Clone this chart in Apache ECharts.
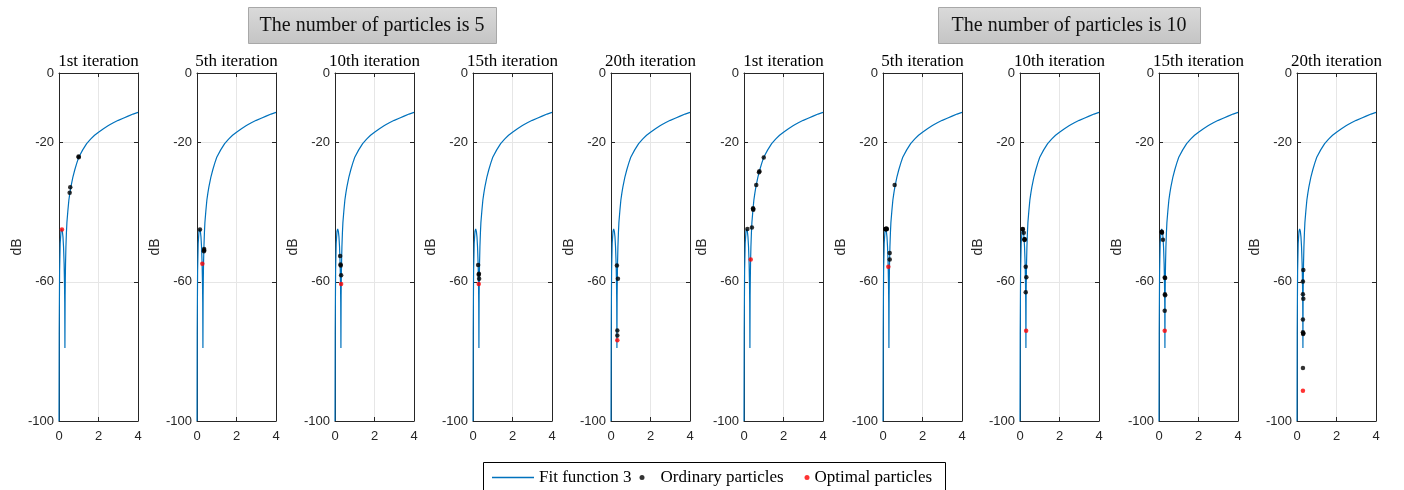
<!DOCTYPE html>
<html><head><meta charset="utf-8">
<script src="https://cdn.jsdelivr.net/npm/echarts@6/dist/echarts.min.js"></script>
<style>html,body{margin:0;padding:0;background:#fff}#c{width:1404px;height:490px}</style>
</head><body><div id="c"></div><script>
// ---- data ----
const curveX  = [0, 0.01, 0.03, 0.06, 0.1, 0.135, 0.17, 0.2, 0.23, 0.26, 0.28, 0.29, 0.3, 0.31, 0.32, 0.33, 0.35, 0.375, 0.4, 0.45, 0.5, 0.55, 0.6, 0.7, 0.8, 0.9, 1.0, 1.2, 1.4, 1.6, 1.8, 2.0, 2.25, 2.5, 2.75, 3.0, 3.25, 3.5, 3.75, 4.0];
const curveDb = [-100, -75, -57, -49, -45.5, -44.8, -45.5, -47, -50, -55, -61, -66, -79, -64, -59, -55, -50, -46, -43, -39.5, -36.5, -34.5, -32.8, -30, -27.8, -25.9, -24.2, -22.1, -20.3, -19, -17.9, -17, -16, -15.1, -14.3, -13.6, -13, -12.4, -11.8, -11.3];

const titles = ['1st iteration','5th iteration','10th iteration','15th iteration','20th iteration',
                '1st iteration','5th iteration','10th iteration','15th iteration','20th iteration'];
const bannerTexts = ['The number of particles is 5', 'The number of particles is 10'];
const yTickValues = [-100, -60, -20, 0];
const xTickValues = [0, 2, 4];
const legendNames = ['Fit function 3', 'Ordinary particles', 'Optimal particles'];

// 5 particles
const ord5_1  = [[1.0,-24.2],[0.99,-24.0],[0.57,-32.8],[0.54,-34.4]];
const opt5_1  = [[0.15,-45.0]];
const ord5_5  = [[0.15,-45.0],[0.36,-50.9],[0.35,-51.2],[0.36,-50.6]];
const opt5_5  = [[0.27,-54.8]];
const ord5_10 = [[0.26,-52.6],[0.28,-55.0],[0.29,-55.3],[0.31,-58.1]];
const opt5_10 = [[0.31,-60.6]];
const ord5_15 = [[0.26,-55.2],[0.30,-57.7],[0.29,-58.0],[0.31,-59.1]];
const opt5_15 = [[0.29,-60.6]];
const ord5_20 = [[0.30,-55.3],[0.35,-59.1],[0.32,-74.0],[0.32,-75.4]];
const opt5_20 = [[0.32,-76.8]];
// 10 particles
const ord10_1  = [[1.0,-24.3],[0.76,-28.5],[0.78,-28.2],[0.62,-32.2],[0.46,-39.1],[0.47,-39.3],[0.46,-38.9],[0.40,-44.4],[0.17,-44.8]];
const opt10_1  = [[0.34,-53.6]];
const ord10_5  = [[0.12,-44.8],[0.15,-44.8],[0.19,-44.8],[0.17,-44.7],[0.13,-44.9],[0.59,-32.2],[0.34,-51.7],[0.34,-53.6],[0.18,-44.9]];
const opt10_5  = [[0.27,-55.7]];
const ord10_10 = [[0.14,-44.8],[0.19,-45.9],[0.22,-47.8],[0.24,-47.8],[0.23,-48.0],[0.29,-55.7],[0.32,-58.7],[0.29,-63.0],[0.14,-44.9]];
const opt10_10 = [[0.31,-74.1]];
const ord10_15 = [[0.14,-45.6],[0.15,-45.9],[0.14,-45.7],[0.20,-47.9],[0.29,-58.8],[0.31,-58.9],[0.30,-63.6],[0.31,-63.9],[0.29,-68.3]];
const opt10_15 = [[0.29,-74.1]];
const ord10_20 = [[0.32,-56.6],[0.30,-59.9],[0.30,-63.6],[0.32,-64.9],[0.30,-70.8],[0.30,-74.5],[0.32,-74.8],[0.31,-75.0],[0.30,-84.8]];
const opt10_20 = [[0.30,-91.3]];

const ordinarySets = [ord5_1, ord5_5, ord5_10, ord5_15, ord5_20, ord10_1, ord10_5, ord10_10, ord10_15, ord10_20];
const optimalSets  = [opt5_1, opt5_5, opt5_10, opt5_15, opt5_20, opt10_1, opt10_5, opt10_10, opt10_15, opt10_20];

// ---- layout ----
const panelLefts = [59, 197, 335, 473, 611, 744, 883, 1020, 1159, 1297];
const PW = 79, PT = 73, PH = 348;
const AX = '#262626';
const sans = 'Liberation Sans, Arial, sans-serif';
const serif = 'Liberation Serif, Times New Roman, serif';
const blue = '#0072BD';

const curve = curveX.map((x, i) => [x, curveDb[i]]);

const grid = [], xAxis = [], yAxis = [], series = [], title = [];
panelLefts.forEach((L, i) => {
  grid.push({ left: L, top: PT, width: PW, height: PH, containLabel: false });
  const baseX = { gridIndex: i, type: 'value', min: 0, max: 4, interval: 2,
    axisLine: { show: true, onZero: false, lineStyle: { color: AX, width: 1 } },
    axisTick: { show: true, inside: true, length: 4, lineStyle: { color: AX } } };
  xAxis.push(Object.assign({}, baseX, { position: 'bottom',
    axisLabel: { show: true, color: AX, fontFamily: sans, fontSize: 13, margin: 9 },
    splitLine: { show: true, lineStyle: { color: '#e6e6e6', width: 1 } } }));
  xAxis.push(Object.assign({}, baseX, { position: 'top',
    axisLabel: { show: false }, splitLine: { show: false } }));
  const baseY = { gridIndex: i, type: 'value', min: -100, max: 0,
    axisLine: { show: true, onZero: false, lineStyle: { color: AX, width: 1 } },
    axisTick: { show: true, inside: true, length: 4, lineStyle: { color: AX }, customValues: yTickValues } };
  yAxis.push(Object.assign({}, baseY, { position: 'left',
    name: 'dB', nameLocation: 'middle', nameGap: 35,
    nameTextStyle: { color: AX, fontFamily: sans, fontSize: 14 },
    axisLabel: { show: true, color: AX, fontFamily: sans, fontSize: 13, margin: 5, customValues: yTickValues },
    splitLine: { show: true, lineStyle: { color: '#e6e6e6', width: 1 } } }));
  yAxis.push(Object.assign({}, baseY, { position: 'right',
    axisLabel: { show: false }, splitLine: { show: false } }));

  series.push({ name: legendNames[0], type: 'line', xAxisIndex: 2 * i, yAxisIndex: 2 * i,
    data: curve, showSymbol: false, symbol: 'none', smooth: false, clip: true,
    lineStyle: { color: blue, width: 1.2 }, itemStyle: { color: blue }, z: 2, animation: false });
  series.push({ name: legendNames[1], type: 'scatter', xAxisIndex: 2 * i, yAxisIndex: 2 * i,
    data: ordinarySets[i], symbol: 'circle', symbolSize: 4.5,
    itemStyle: { color: '#000' }, z: 3, animation: false });
  series.push({ name: legendNames[2], type: 'scatter', xAxisIndex: 2 * i, yAxisIndex: 2 * i,
    data: optimalSets[i], symbol: 'circle', symbolSize: 4.5,
    itemStyle: { color: '#ff0000' }, z: 4, animation: false });

  title.push({ text: titles[i], left: L + PW / 2, top: 53, textAlign: 'center', padding: 0,
    textStyle: { fontFamily: serif, fontSize: 17, fontWeight: 'normal', color: '#000' } });
});

const bannerBoxes = [[248, 7, 248, 36], [938, 7, 262, 36]];
const graphic = [];
bannerBoxes.forEach((b, k) => {
  graphic.push({ type: 'rect', left: b[0], top: b[1], z: 10,
    shape: { width: b[2], height: b[3] },
    style: { fill: { type: 'linear', x: 0, y: 0, x2: 0, y2: 1,
      colorStops: [{ offset: 0, color: '#dadada' }, { offset: 1, color: '#c4c4c4' }] },
      stroke: '#a8a8a8', lineWidth: 1 } });
  graphic.push({ type: 'text', x: b[0] + b[2] / 2, y: b[1] + b[3] / 2 + 1, z: 11,
    style: { text: bannerTexts[k], fill: '#111', font: '20px ' + serif,
      textAlign: 'center', textVerticalAlign: 'middle' } });
});
// legend frame
graphic.push({ type: 'rect', left: 483, top: 462, z: 10,
  shape: { width: 462, height: 40 },
  style: { fill: '#fff', stroke: '#000', lineWidth: 1 } });

const legTxt = { fontFamily: serif, fontSize: 17, color: '#000' };
const legend = [
  { data: [{ name: legendNames[0], icon: 'rect' }], left: 492, top: 469, padding: 0,
    itemWidth: 42, itemHeight: 1.5, textStyle: legTxt, selectedMode: false, z: 20 },
  { data: [{ name: legendNames[1], icon: 'circle' }], left: 639.5, top: 469, padding: 0,
    itemWidth: 5, itemHeight: 5, textStyle: Object.assign({}, legTxt, { padding: [0, 0, 0, 11] }), selectedMode: false, z: 20 },
  { data: [{ name: legendNames[2], icon: 'circle' }], left: 804.5, top: 469, padding: 0,
    itemWidth: 5, itemHeight: 5, textStyle: legTxt, selectedMode: false, z: 20 }
];

const chart = echarts.init(document.getElementById('c'), null, { renderer: 'canvas' });
chart.setOption({ animation: false, backgroundColor: '#fff',
  grid, xAxis, yAxis, series, title, legend, graphic });
</script></body></html>
